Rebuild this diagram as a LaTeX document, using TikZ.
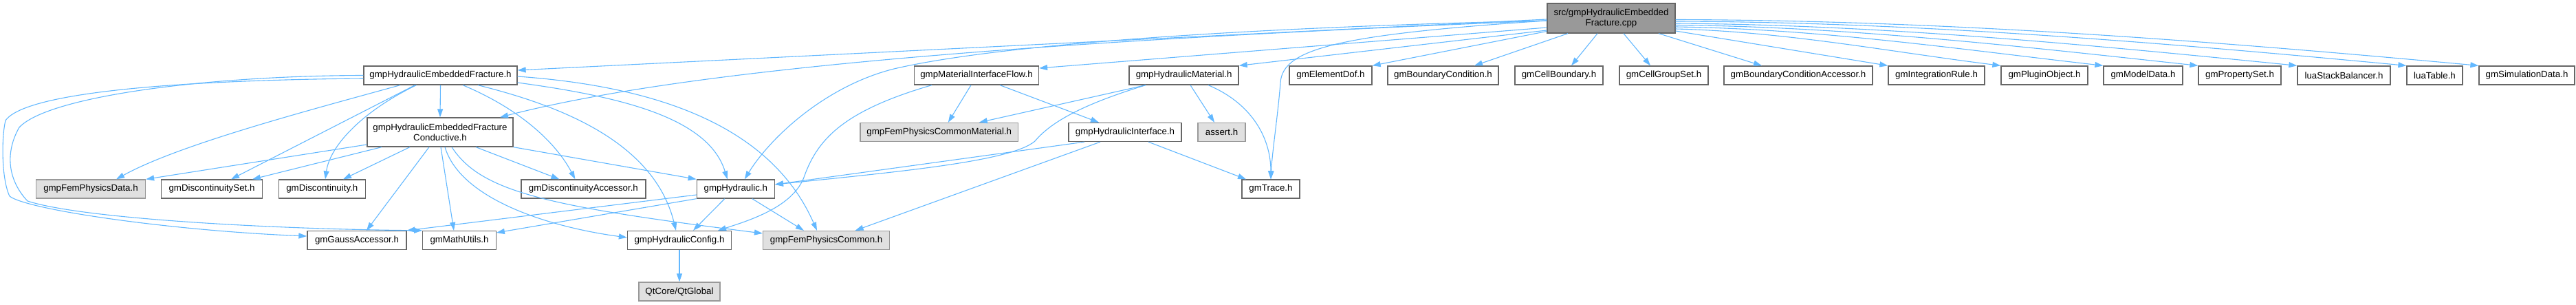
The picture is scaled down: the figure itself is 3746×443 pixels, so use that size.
\documentclass[tikz,border=0pt]{standalone}
\usepackage{fontspec}
\setmainfont{Liberation Sans}
\usetikzlibrary{arrows.meta}
\definecolor{edgec}{HTML}{63B8FF}
\definecolor{boxborder}{HTML}{666666}
\definecolor{greyfill}{HTML}{E0E0E0}
\definecolor{greyborder}{HTML}{999999}
\definecolor{mainfill}{HTML}{999999}
\newcommand\nodefnt{\fontsize{13.3}{15.5}\selectfont}
\tikzset{
  box/.style={draw=boxborder, line width=1.3pt, fill=white, inner sep=0pt,
    minimum height=27pt, font=\nodefnt, text=black},
  greybox/.style={box, fill=greyfill, draw=greyborder},
  mainbox/.style={box, fill=mainfill, minimum height=43pt, align=center},
  edge/.style={draw=edgec, line width=1.1pt, -{Triangle[length=12pt,width=8pt]}},
}
\begin{document}
\begin{tikzpicture}[x=1pt,y=1pt]
\useasboundingbox (0,0) rectangle (3746,-443);
% top
\node[mainbox, minimum width=186pt] (main) at (2343,-26.5) {src/gmpHydraulicEmbedded\\Fracture.cpp};
% row 1
\node[box, minimum width=223pt] (ef) at (640.5,-109.5) {gmpHydraulicEmbeddedFracture.h};
\node[box, minimum width=181pt] (mif) at (1420,-109.5) {gmpMaterialInterfaceFlow.h};
\node[box, minimum width=159pt] (hm) at (1721.6,-109.5) {gmpHydraulicMaterial.h};
\node[box, minimum width=120pt] (edof) at (1935,-109.5) {gmElementDof.h};
\node[box, minimum width=161pt] (bc) at (2098.5,-109.5) {gmBoundaryCondition.h};
\node[box, minimum width=128pt] (cb) at (2267,-109.5) {gmCellBoundary.h};
\node[box, minimum width=129pt] (cgs) at (2419.5,-109.5) {gmCellGroupSet.h};
\node[box, minimum width=216pt] (bca) at (2615,-109.5) {gmBoundaryConditionAccessor.h};
\node[box, minimum width=140pt] (ir) at (2816,-109.5) {gmIntegrationRule.h};
\node[box, minimum width=126pt] (po) at (2973,-109.5) {gmPluginObject.h};
\node[box, minimum width=115pt] (md) at (3116.5,-109.5) {gmModelData.h};
\node[box, minimum width=120pt] (ps) at (3257,-109.5) {gmPropertySet.h};
\node[box, minimum width=135pt] (lsb) at (3408.5,-109.5) {luaStackBalancer.h};
\node[box, minimum width=81pt] (lt) at (3540.5,-109.5) {luaTable.h};
\node[box, minimum width=139pt] (sd) at (3674.5,-109.5) {gmSimulationData.h};
% row 2
\node[box, minimum width=212pt, minimum height=42pt, align=center] (efc) at (640,-192) {gmpHydraulicEmbeddedFracture\\Conductive.h};
\node[greybox, minimum width=229.6pt] (fpcm) at (1365.8,-192) {gmpFemPhysicsCommonMaterial.h};
\node[box, minimum width=164pt] (hi) at (1636,-192) {gmpHydraulicInterface.h};
\node[greybox, minimum width=69pt] (as) at (1776.5,-192) {assert.h};
% row 3
\node[greybox, minimum width=159pt] (fpd) at (132,-274.5) {gmpFemPhysicsData.h};
\node[box, minimum width=146.7pt] (ds) at (308,-274.5) {gmDiscontinuitySet.h};
\node[box, minimum width=126pt] (dis) at (468.3,-274.5) {gmDiscontinuity.h};
\node[box, minimum width=181pt] (da) at (848.4,-274.5) {gmDiscontinuityAccessor.h};
\node[box, minimum width=113pt] (hy) at (1069.8,-274.5) {gmpHydraulic.h};
\node[box, minimum width=84pt] (tr) at (1848,-274.5) {gmTrace.h};
% row 4
\node[box, minimum width=144pt] (ga) at (519,-349) {gmGaussAccessor.h};
\node[box, minimum width=106.5pt] (mu) at (668,-349) {gmMathUtils.h};
\node[box, minimum width=151pt] (hc) at (988,-349) {gmpHydraulicConfig.h};
\node[greybox, minimum width=184pt] (fpc) at (1201.6,-349) {gmpFemPhysicsCommon.h};
% row 5
\node[greybox, minimum width=118pt] (qt) at (988,-423.5) {QtCore/QtGlobal};

% edges from main
\draw[edge] ([yshift=-1.5pt]main.west) -- ([yshift=7.5pt]ef.east);
\draw[edge] ([yshift=-3.5pt]main.west) .. controls (1500,-60) and (1000,-100) .. ([xshift=87pt]efc.north);
\draw[edge] ([yshift=-3.5pt]main.west) .. controls (1800,-40) and (1450,-65) .. (1300,-100) .. controls (1200,-125) and (1120,-200) .. ([xshift=13pt]hy.north);
\draw[edge] ([yshift=-13.5pt]main.west) -- ([yshift=10.5pt]mif.east);
\draw[edge] ([yshift=-17.5pt]main.west) -- (hm.north east);
\draw[edge] ([yshift=-3.5pt]main.west) .. controls (1950,-50) and (1865,-70) .. (1862,-120) .. controls (1858,-170) and (1850,-220) .. (tr.north);
\draw[edge] ([yshift=-19pt]main.west) -- (edof.north east);
\draw[edge] ([xshift=-63pt]main.south) -- ([xshift=45.5pt]bc.north);
\draw[edge] ([xshift=-20pt]main.south) -- ([xshift=18pt]cb.north);
\draw[edge] ([xshift=18pt]main.south) -- ([xshift=-19.5pt]cgs.north);
\draw[edge] ([xshift=69pt]main.south) -- ([xshift=-53pt]bca.north);
\draw[edge] ([yshift=-18.5pt]main.east) -- (ir.north west);
\draw[edge] ([yshift=-15.5pt]main.east) .. controls +(160,-4) and +(-160,20) .. (po.north west);
\draw[edge] ([yshift=-12.5pt]main.east) .. controls +(210,-3) and +(-210,24) .. (md.north west);
\draw[edge] ([yshift=-10pt]main.east) .. controls +(250,-2) and +(-250,27) .. (ps.north west);
\draw[edge] ([yshift=-7.5pt]main.east) .. controls +(300,-2) and +(-300,30) .. (lsb.north west);
\draw[edge] ([yshift=-4.5pt]main.east) .. controls +(350,-1) and +(-350,33) .. (lt.north west);
\draw[edge] ([yshift=-2pt]main.east) .. controls +(390,-1) and +(-390,36) .. (sd.north west);

% edges from gmpHydraulicEmbeddedFracture.h
\draw[edge] (ef.south) -- (efc.north);
\draw[edge] ([xshift=-58.5pt]ef.south) .. controls (450,-160) and (260,-210) .. ([xshift=37pt]fpd.north);
\draw[edge] ([xshift=-37pt]ef.south) -- ([xshift=28pt]ds.north);
\draw[edge] ([xshift=-35pt]ef.south) .. controls (530,-160) and (480,-210) .. ([xshift=4.7pt]dis.north);
\draw[edge] ([xshift=32.5pt]ef.south) .. controls (760,-160) and (810,-210) .. ([xshift=-12pt]da.north);
\draw[edge] ([yshift=-10.5pt]ef.east) .. controls (900,-140) and (1030,-170) .. ([xshift=-12pt]hy.north);
\draw[edge] ([yshift=-1.5pt]ef.east) .. controls (950,-125) and (1120,-180) .. ([xshift=-13.6pt]fpc.north);
\draw[edge] ([xshift=54.5pt]ef.south) .. controls (800,-150) and (950,-200) .. ([xshift=-5pt]hc.north);
\draw[edge] ([yshift=-4.5pt]ef.west) .. controls (300,-116) and (40,-130) .. (8,-175) .. controls (2,-200) and (2,-260) .. (14,-285) .. controls (40,-305) and (250,-335) .. ([yshift=6pt]ga.west);
\draw[edge] (ef.west) .. controls (300,-110) and (70,-140) .. (28,-185) .. controls (8,-220) and (10,-260) .. (40,-292) .. controls (120,-318) and (400,-333) .. (mu.north west);

% edges from Conductive
\draw[edge] ([yshift=-18pt]efc.west) -- (fpd.north east);
\draw[edge] ([xshift=-85pt]efc.south) -- ([xshift=59pt]ds.north);
\draw[edge] ([xshift=-44pt]efc.south) -- ([xshift=30.7pt]dis.north);
\draw[edge] ([xshift=-16pt]efc.south) -- ([xshift=14pt]ga.north);
\draw[edge] ([xshift=1pt]efc.south) -- ([xshift=-8pt]mu.north);
\draw[edge] ([xshift=7pt]efc.south) .. controls (670,-290) and (800,-330) .. ([yshift=4pt]hc.west);
\draw[edge] ([xshift=17pt]efc.south) .. controls (700,-280) and (800,-300) .. ([yshift=10pt]fpc.west);
\draw[edge] ([xshift=52pt]efc.south) -- ([xshift=-35pt]da.north);
\draw[edge] (efc.south east) -- (hy.north west);

% edges from gmpHydraulic.h
\draw[edge] ([yshift=-8.5pt]hy.west) -- (ga.north east);
\draw[edge] (hy.south west) -- ([yshift=11pt]mu.east);
\draw[edge] ([xshift=-16pt]hy.south) -- ([xshift=20pt]hc.north);
\draw[edge] ([xshift=24pt]hy.south) -- ([xshift=-32.6pt]fpc.north);
\draw[edge] (hc.south) -- (qt.north);

% edges from gmpMaterialInterfaceFlow.h
\draw[edge] ([xshift=-8pt]mif.south) -- ([xshift=13pt]fpcm.north);
\draw[edge] ([xshift=34pt]mif.south) -- ([xshift=-38pt]hi.north);
\draw[edge] ([xshift=-65pt]mif.south) .. controls (1230,-160) and (1190,-200) .. (1170,-255) .. controls (1155,-300) and (1090,-320) .. ([xshift=56pt]hc.north);

% edges from gmpHydraulicMaterial.h
\draw[edge] ([xshift=-55.6pt]hm.south) -- ([xshift=58pt]fpcm.north);
\draw[edge] ([xshift=-55.6pt]hm.south) .. controls (1580,-150) and (1530,-175) .. (1505,-205) .. controls (1470,-235) and (1300,-250) .. ([yshift=6.5pt]hy.east);
\draw[edge] ([xshift=9.4pt]hm.south) -- ([xshift=-10.5pt]as.north);
\draw[edge] ([xshift=35.4pt]hm.south) .. controls (1820,-150) and (1848,-200) .. (tr.north);

% edges from gmpHydraulicInterface.h
\draw[edge] ([xshift=-59pt]hi.south) -- ([yshift=6.5pt]hy.east);
\draw[edge] ([xshift=-36pt]hi.south) -- ([xshift=42pt]fpc.north);
\draw[edge] ([xshift=34pt]hi.south) -- ([xshift=-36pt]tr.north);
\end{tikzpicture}
\end{document}
